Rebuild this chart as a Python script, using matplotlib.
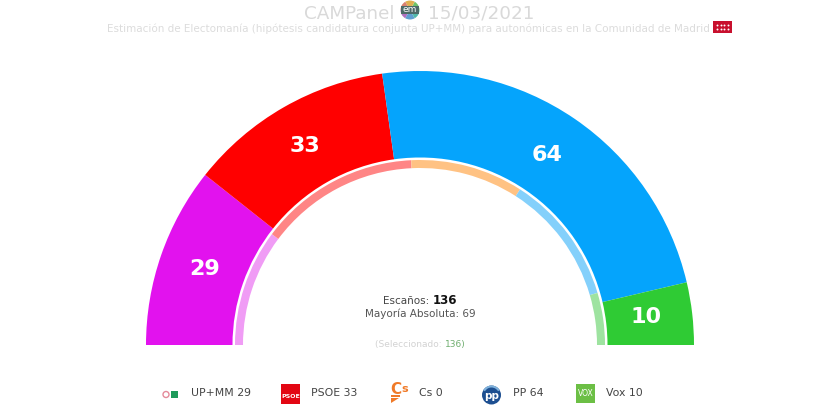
import matplotlib
matplotlib.use("Agg")
import matplotlib.pyplot as plt
from matplotlib.patches import Wedge, Circle, Rectangle, Polygon

# Escaños de la estimación
partidos = ["UP+MM", "PSOE", "PP", "Vox"]
escanos = [29, 33, 64, 10]
colores = ["#e212ee", "#ff0000", "#05a4fc", "#2fcb34"]

# Anillo interior: resultado anterior
anillo_partidos = ["UP+MM", "PSOE", "Cs", "PP", "Vox"]
anillo_escanos = [27, 37, 26, 30, 12]
anillo_colores = ["#f09cf5", "#ff8585", "#ffc283", "#84d0fb", "#9ee3a0"]

# Leyenda
leyenda = ["UP+MM 29", "PSOE 33", "Cs 0", "PP 64", "Vox 10"]
leyenda_x = [191, 311, 419, 513, 606]

fig = plt.figure(figsize=(8.14, 4.09), dpi=100)
ax = fig.add_axes([0, 0, 1, 1])
# un pixel = una unidad, origen en el centro del hemiciclo
ax.set_xlim(-420, 394)
ax.set_ylim(-64, 345)
ax.axis("off")


def semicirculo(valores, cols, r_in, r_out):
    total = sum(valores)
    acum = 0
    for v, c in zip(valores, cols):
        a1 = 180 - (acum + v) / total * 180
        a2 = 180 - acum / total * 180
        ax.add_patch(Wedge((0, 0), r_out, a1, a2, width=r_out - r_in, fc=c, ec="none"))
        acum += v


semicirculo(escanos, colores, 187.5, 274)
semicirculo(anillo_escanos, anillo_colores, 177, 185)

# Valores sobre cada sector
posiciones = [(-215, 76), (-115, 199), (127, 190), (226, 28)]
for v, (x, y) in zip(escanos, posiciones):
    ax.text(x, y, str(v), color="white", fontsize=16, fontweight="bold",
            ha="center", va="center")

# Titulos
ax.text(-71, 331, "CAMPanel", color="#d9d9d9", fontsize=13.2, ha="center", va="center")
ax.text(61.5, 331, "15/03/2021", color="#d9d9d9", fontsize=13.2, ha="center", va="center")
# logo em, circulo de colores
for a, c in zip([0, 60, 120, 180, 240, 300],
                ["#6fc36a", "#e0b050", "#d9806f", "#b070c0", "#5f9fd0", "#50b8a8"]):
    ax.add_patch(Wedge((-10, 335), 9.5, a, a + 60, fc=c, ec="none"))
ax.add_patch(Rectangle((-19, 331), 18, 8, fc="#4d6a68", ec="none"))
ax.text(-10, 335, "em", color="white", fontsize=6.5, ha="center", va="center")
ax.text(-12, 316, "Estimación de Electomanía (hipótesis candidatura conjunta UP+MM) para autonómicas en la Comunidad de Madrid",
        color="#dcdcdc", fontsize=7.45, ha="center", va="center")
ax.add_patch(Rectangle((293, 312), 19, 12, fc="#c8102e", ec="none"))
ax.scatter([297, 300.5, 304, 307.5, 297, 300.5, 304, 307.5],
           [320, 320, 320, 320, 316, 316, 316, 316], s=2, c="white", linewidths=0)

# Texto central
ax.text(13, 44, "Escaños: ", color="#444444", fontsize=7.5, ha="right", va="center")
ax.text(13, 44.5, "136", color="#111111", fontsize=8.5, fontweight="bold", ha="left", va="center")
ax.text(0, 31, "Mayoría Absoluta: 69", color="#555555", fontsize=7.5, ha="center", va="center")
ax.text(25, 1, "(Seleccionado: ", color="#d2d2d2", fontsize=6.5, ha="right", va="center")
ax.text(25, 1, "136)", color="#6fae6f", fontsize=6.5, ha="left", va="center")

# Leyenda con logos sencillos
for t, x in zip(leyenda, leyenda_x):
    ax.text(x - 420, -48, t, color="#444444", fontsize=7.8, ha="left", va="center")

ax.add_patch(Circle((166 - 420, -49.5), 3, fc="white", ec="#e48a9a", lw=1))
ax.add_patch(Rectangle((171 - 420, -53), 7, 7, fc="#1e9a5a", ec="none"))

ax.add_patch(Rectangle((281 - 420, -59), 19, 20, fc="#e30613", ec="none"))
ax.text(290.5 - 420, -52, "PSOE", color="white", fontsize=4.5, fontweight="bold", ha="center", va="center")

ax.text(396 - 420, -45, "C", color="#f07a28", fontsize=11, fontweight="bold", ha="center", va="center")
ax.text(405 - 420, -44, "s", color="#f07a28", fontsize=8, fontweight="bold", ha="center", va="center")
ax.add_patch(Rectangle((391 - 420, -52), 9, 2, fc="#f07a28", ec="none"))
ax.add_patch(Polygon([(391 - 420, -53), (399 - 420, -53), (391 - 420, -58)], fc="#f07a28", ec="none"))

ax.add_patch(Circle((491.5 - 420, -50), 9.5, fc="#1d4f91", ec="none"))
ax.add_patch(Wedge((491.5 - 420, -50), 9.5, 30, 150, width=2, fc="#7fb2dc", ec="none"))
ax.text(491.5 - 420, -51, "pp", color="white", fontsize=7.5, fontweight="bold", ha="center", va="center")

ax.add_patch(Rectangle((576 - 420, -58), 19, 19, fc="#6cbf45", ec="none"))
ax.text(585.5 - 420, -49, "VOX", color="white", fontsize=5.5, ha="center", va="center")

fig.savefig("out.png", dpi=100, facecolor="white")
